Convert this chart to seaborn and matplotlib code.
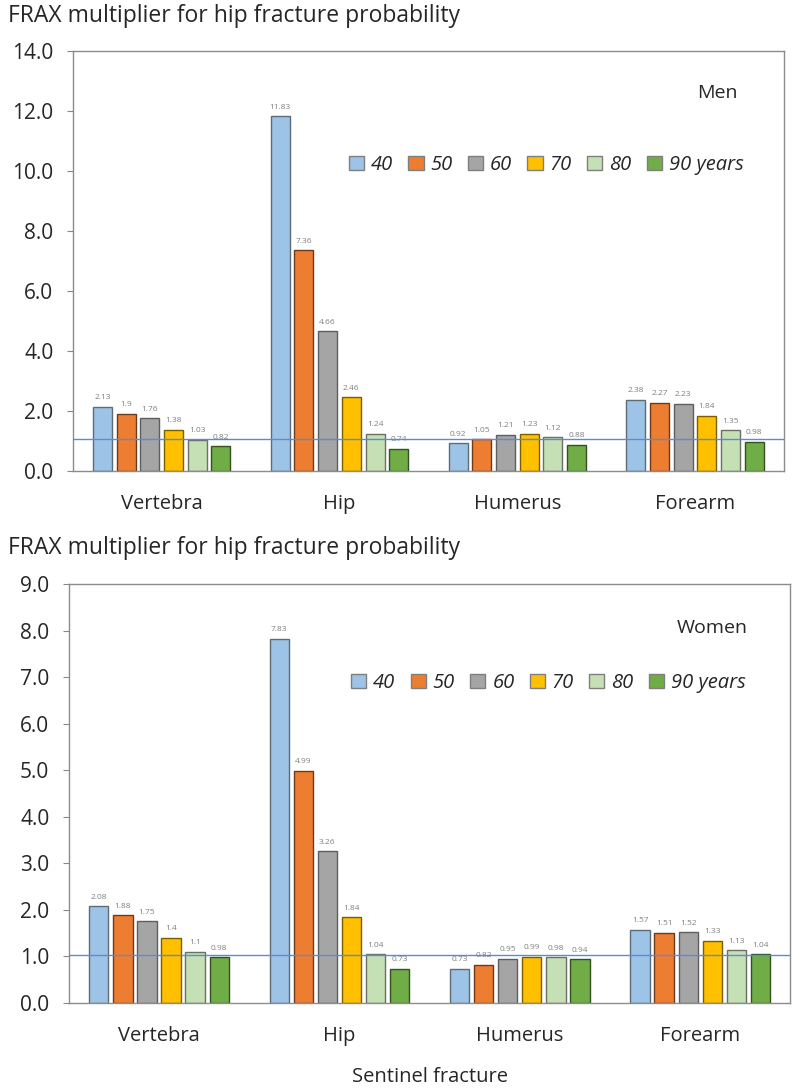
import numpy as np
import pandas as pd
import matplotlib
matplotlib.use("Agg")
import matplotlib.pyplot as plt
from matplotlib.patches import Patch
import seaborn as sns

# ----------------------
# Data
# ----------------------
fractures = ["Vertebra", "Hip", "Humerus", "Forearm"]
ages = ["40", "50", "60", "70", "80", "90 years"]

men_vertebra = [2.13, 1.9, 1.76, 1.38, 1.03, 0.82]
men_hip = [11.83, 7.36, 4.66, 2.46, 1.24, 0.74]
men_humerus = [0.92, 1.05, 1.21, 1.23, 1.12, 0.88]
men_forearm = [2.38, 2.27, 2.23, 1.84, 1.35, 0.98]

women_vertebra = [2.08, 1.88, 1.75, 1.4, 1.1, 0.98]
women_hip = [7.83, 4.99, 3.26, 1.84, 1.04, 0.73]
women_humerus = [0.73, 0.82, 0.95, 0.99, 0.98, 0.94]
women_forearm = [1.57, 1.51, 1.52, 1.33, 1.13, 1.04]

men_ref = 1.05
women_ref = 1.03

colors = ["#9DC3E6", "#ED7D31", "#A5A5A5", "#FFC000", "#C5E0B4", "#70AD47"]
edges = ["#5F6B75", "#6E3A1E", "#5E5E5E", "#7A5E00", "#6A7064", "#34511F"]


def make_frame(series):
    rows = []
    for frac, vals in zip(fractures, series):
        for age, v in zip(ages, vals):
            rows.append({"fracture": frac, "age": age, "value": v})
    return pd.DataFrame(rows)


men = make_frame([men_vertebra, men_hip, men_humerus, men_forearm])
women = make_frame([women_vertebra, women_hip, women_humerus, women_forearm])

sns.set_style("white")
plt.rcParams["font.family"] = ["Open Sans", "DejaVu Sans"]

fig = plt.figure(figsize=(8, 10.9), dpi=100)
ax1 = fig.add_axes([0.091, 0.568, 0.889, 0.385])
ax2 = fig.add_axes([0.086, 0.080, 0.902, 0.384])


def draw(ax, df, ymax, step, ref, label, leg_xy, lab_xy):
    sns.barplot(data=df, x="fracture", y="value", hue="age", order=fractures,
                hue_order=ages, palette=colors, saturation=1, width=0.8,
                gap=0.2, linewidth=1, ax=ax, legend=False)
    for cont, ec in zip(ax.containers, edges):
        for bar in cont:
            bar.set_edgecolor(ec)
        ax.bar_label(cont, labels=[f"{v:g}" for v in cont.datavalues],
                     padding=4, fontsize=6, color="#808080")
    ax.axhline(ref, color="#5B8BD6", lw=1, zorder=5)
    ticks = np.arange(0, ymax + 0.01, step)
    ax.set_ylim(0, ymax)
    ax.set_yticks(ticks)
    ax.set_yticklabels([f"{t:.1f}" for t in ticks])
    ax.set_xlim(-0.5, 3.5)
    ax.tick_params(axis="y", left=True, length=4, width=0.8,
                   color="#888888", labelsize=15, pad=10)
    ax.tick_params(axis="x", bottom=False, labelsize=14.5, pad=13)
    ax.set_xlabel("")
    ax.set_ylabel("")
    for s in ax.spines.values():
        s.set_color("#8C8C8C")
        s.set_linewidth(1)
    handles = [Patch(facecolor=c, edgecolor="#7F7F7F", lw=1) for c in colors]
    ax.legend(handles, ages, loc="center left", bbox_to_anchor=leg_xy, ncol=6,
              frameon=False, handlelength=0.75, handleheight=0.75,
              handletextpad=0.35, columnspacing=0.75, borderaxespad=0,
              prop={"style": "italic", "size": 14.5})
    ax.text(lab_xy[0], lab_xy[1], label, transform=ax.transAxes,
            ha="center", va="center", fontsize=14)


draw(ax1, men, 14, 2, men_ref, "Men", (0.377, 0.729), (0.907, 0.9))
draw(ax2, women, 9, 1, women_ref, "Women", (0.38, 0.764), (0.892, 0.895))

ax2.set_xlabel("Sentinel fracture", fontsize=14.5, labelpad=15)

fig.text(0.01, 0.985, "FRAX multiplier for hip fracture probability",
         ha="left", va="center", fontsize=16.5)
fig.text(0.01, 0.497, "FRAX multiplier for hip fracture probability",
         ha="left", va="center", fontsize=16.5)

fig.savefig("out.png", dpi=100, facecolor="white")
